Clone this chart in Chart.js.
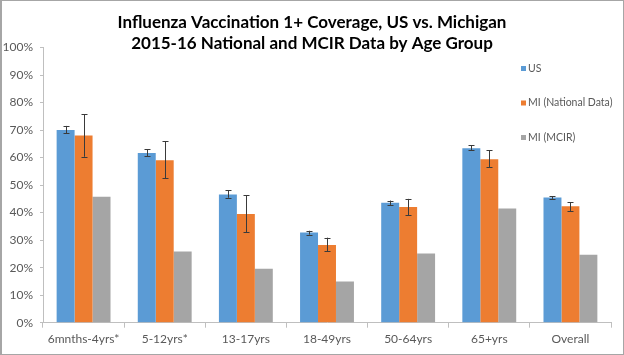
<!DOCTYPE html>
<html>
<head>
<meta charset="utf-8">
<script src="https://cdn.jsdelivr.net/npm/chart.js@4.4.1/dist/chart.umd.min.js"></script>
<style>
  html, body { margin: 0; padding: 0; background: #fff; }
  #wrap { position: relative; width: 624px; height: 355px; }
  #frame { position: absolute; left: 0; top: 0; width: 624px; height: 355px; box-sizing: border-box; border: 1px solid #a6a6a6; border-left-width: 2px; pointer-events: none; }
</style>
</head>
<body>
<div id="wrap">
  <canvas id="c" width="624" height="355"></canvas>
  <div id="frame"></div>
</div>
<script>
const categories = ['6mnths-4yrs*', '5-12yrs*', '13-17yrs', '18-49yrs', '50-64yrs', '65+yrs', 'Overall'];
const seriesNames = ['US', 'MI (National Data)', 'MI (MCIR)'];
const usValues   = [70.0, 61.7, 46.6, 32.8, 43.6, 63.4, 45.5];
const usLow      = [68.8, 60.5, 45.4, 32.0, 42.8, 62.6, 45.0];
const usHigh     = [71.5, 63.0, 48.2, 33.4, 44.4, 64.4, 46.0];
const miNatValues = [68.0, 59.0, 39.5, 28.2, 42.0, 59.4, 42.3];
const miNatLow    = [60.3, 52.4, 32.9, 25.9, 39.1, 56.5, 40.6];
const miNatHigh   = [75.7, 66.0, 46.3, 30.9, 45.0, 62.7, 43.8];
const mcirValues  = [45.8, 25.9, 19.6, 15.0, 25.1, 41.5, 24.7];
const yTicks = [0, 10, 20, 30, 40, 50, 60, 70, 80, 90, 100];

const FONT = 'Lato, "Open Sans", sans-serif';
const TXT = '#595959';

const errorBars = {
  id: 'errorBars',
  afterDatasetsDraw(chart) {
    const ctx = chart.ctx;
    const y = chart.scales.y;
    ctx.save();
    ctx.strokeStyle = '#3a3a3a';
    ctx.lineWidth = 1;
    chart.data.datasets.forEach((ds, i) => {
      if (!ds.errLow) return;
      const meta = chart.getDatasetMeta(i);
      meta.data.forEach((bar, j) => {
        const x = Math.round(bar.x) + 0.5;
        const yl = y.getPixelForValue(ds.errLow[j]);
        const yh = y.getPixelForValue(ds.errHigh[j]);
        ctx.beginPath();
        ctx.moveTo(x, yh); ctx.lineTo(x, yl);
        ctx.moveTo(x - 3, Math.round(yh) + 0.5); ctx.lineTo(x + 3, Math.round(yh) + 0.5);
        ctx.moveTo(x - 3, Math.round(yl) + 0.5); ctx.lineTo(x + 3, Math.round(yl) + 0.5);
        ctx.stroke();
      });
    });
    ctx.restore();
  }
};

const customLegend = {
  id: 'customLegend',
  afterDraw(chart) {
    const ctx = chart.ctx;
    ctx.save();
    ctx.font = '10.5px ' + FONT;
    ctx.textBaseline = 'middle';
    ctx.textAlign = 'left';
    const x0 = 521, y0 = 68.5, step = 34.5;
    chart.data.datasets.forEach((ds, i) => {
      const yy = y0 + i * step;
      ctx.fillStyle = ds.backgroundColor;
      ctx.fillRect(x0, yy - 2.5, 5, 5);
      ctx.fillStyle = TXT;
      ctx.fillText(ds.label, x0 + 7, yy);
    });
    ctx.restore();
  }
};

new Chart(document.getElementById('c'), {
  type: 'bar',
  data: {
    labels: categories,
    datasets: [
      { label: seriesNames[0], data: usValues, errLow: usLow, errHigh: usHigh, backgroundColor: '#5B9BD5' },
      { label: seriesNames[1], data: miNatValues, errLow: miNatLow, errHigh: miNatHigh, backgroundColor: '#ED7D31' },
      { label: seriesNames[2], data: mcirValues, backgroundColor: '#A5A5A5' }
    ]
  },
  options: {
    responsive: false,
    animation: false,
    devicePixelRatio: 1,
    datasets: { bar: { categoryPercentage: 0.664, barPercentage: 1.0, borderWidth: 0 } },
    layout: { padding: { left: 0, right: 0, top: 0, bottom: 0 } },
    plugins: {
      legend: { display: false },
      tooltip: { enabled: false },
      title: {
        display: true,
        text: ['Influenza Vaccination 1+ Coverage, US vs. Michigan', '2015-16 National and MCIR Data by Age Group'],
        color: '#000',
        font: { family: FONT, size: 17, weight: 'bold', lineHeight: 1.22 },
        padding: { top: 12, bottom: -6 }
      }
    },
    scales: {
      x: {
        grid: { display: true, drawOnChartArea: false, drawTicks: true, tickLength: 5, color: '#bfbfbf', offset: true },
        border: { display: true, color: '#bfbfbf' },
        ticks: { color: TXT, font: { family: FONT, size: 12 }, padding: 4, maxRotation: 0, autoSkip: false },
        afterFit(s) { s.height = 32.3; }
      },
      y: {
        min: 0, max: 100,
        afterBuildTicks(s) { s.ticks = yTicks.map(v => ({ value: v })); },
        grid: { display: true, drawOnChartArea: false, drawTicks: true, tickLength: 3, color: '#bfbfbf' },
        border: { display: true, color: '#bfbfbf' },
        ticks: { color: TXT, font: { family: FONT, size: 12 }, padding: 7, callback: v => v + '%' },
        afterFit(s) { s.width = 43; }
      },
      yRightSpace: {
        position: 'right',
        display: true,
        min: 0, max: 100,
        grid: { display: false, drawTicks: false },
        border: { display: false },
        ticks: { display: false },
        afterFit(s) { s.width = 13; }
      }
    }
  },
  plugins: [errorBars, customLegend]
});
</script>
</body>
</html>
